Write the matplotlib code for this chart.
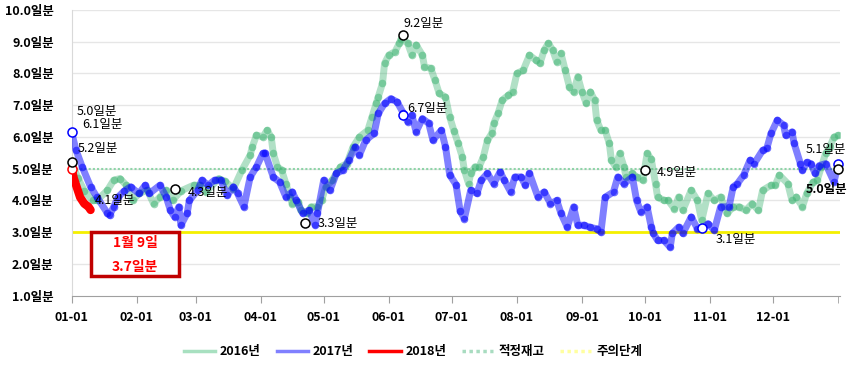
import matplotlib
matplotlib.use("Agg")
import matplotlib.pyplot as plt
from matplotlib.patches import Rectangle
from matplotlib.lines import Line2D

plt.rcParams['font.family'] = ['Noto Sans CJK KR', 'DejaVu Sans']

# ---------------- data ----------------
month_days = [0, 31, 59, 90, 120, 151, 181, 212, 243, 273, 304, 334]
month_labels = ["01-01", "02-01", "03-01", "04-01", "05-01", "06-01",
                "07-01", "08-01", "09-01", "10-01", "11-01", "12-01"]
y_ticks = [1, 2, 3, 4, 5, 6, 7, 8, 9, 10]

days_2016 = [0, 3, 6, 10, 12, 17, 20, 23, 26, 29, 32, 36, 39, 42, 45, 48, 52, 58, 61, 64,
             70, 73, 77, 81, 85, 86, 88, 91, 93, 95, 96, 98, 100, 102, 104, 105, 108, 109, 112, 114,
             117, 119, 121, 124, 128, 131, 134, 137, 141, 143, 145, 146, 148, 149, 151, 154, 156, 157, 160, 162,
             164, 167, 168, 171, 173, 175, 178, 180, 182, 184, 186, 187, 189, 190, 192, 194, 196, 198, 200, 201,
             203, 205, 208, 210, 212, 215, 218, 221, 223, 225, 227, 229, 231, 233, 235, 237, 239, 241, 243, 245,
             247, 249, 250, 252, 254, 256, 257, 259, 261, 263, 264, 267, 269, 272, 274, 276, 278, 279, 282, 284,
             287, 289, 291, 295, 298, 300, 303, 306, 309, 312, 315, 318, 321, 324, 327, 329, 333, 335, 337, 341,
             343, 345, 348, 350, 353, 355, 357, 359, 361, 363, 365]
vals_2016 = [5.2, 4.7, 4.3, 4.0, 4.0, 4.32, 4.64, 4.69, 4.48, 4.0, 4.22, 4.32, 3.9, 4.11, 4.32, 4.0, 4.3, 4.48, 4.48, 4.27,
             4.69, 4.6, 4.37, 4.95, 5.43, 5.69, 6.06, 6.0, 6.21, 6.0, 5.48, 5.06, 4.95, 4.53, 4.11, 3.9, 3.95, 3.69, 3.59, 3.8,
             3.8, 4.0, 4.43, 4.64, 5.06, 5.16, 5.69, 6.0, 6.21, 6.63, 7.06, 7.26, 7.69, 8.32, 8.58, 8.69, 8.95, 9.1, 8.95, 8.58,
             8.9, 8.58, 8.21, 8.16, 7.79, 7.37, 7.26, 6.63, 6.2, 5.8, 5.37, 4.95, 4.53, 4.85, 5.06, 5.06, 5.37, 5.9, 6.11, 6.43,
             6.74, 7.16, 7.32, 7.42, 8.0, 8.1, 8.58, 8.42, 8.32, 8.74, 8.95, 8.74, 8.37, 8.63, 8.1, 7.58, 7.42, 7.9, 7.42, 7.06,
             7.42, 7.16, 6.53, 6.21, 6.21, 5.8, 5.27, 5.06, 5.48, 5.06, 4.74, 4.85, 4.74, 4.64, 5.48, 5.3, 4.53, 4.11, 4.0, 4.0,
             3.74, 4.11, 3.69, 4.32, 4.0, 3.37, 4.22, 4.0, 4.11, 3.59, 3.8, 3.8, 3.69, 3.9, 3.69, 4.32, 4.48, 4.48, 4.8, 4.53,
             4.0, 4.11, 3.8, 4.22, 4.58, 4.64, 5.06, 5.48, 5.69, 6.0, 6.05]

days_2017 = [0, 2, 5, 9, 12, 17, 18, 20, 22, 25, 28, 32, 35, 37, 42, 45, 47, 49, 51, 52,
             55, 56, 60, 62, 65, 68, 71, 74, 77, 79, 82, 85, 88, 91, 92, 96, 99, 102, 105, 107,
             110, 113, 116, 117, 120, 123, 126, 129, 132, 135, 137, 140, 144, 146, 149, 152, 155, 158, 160, 162,
             164, 167, 170, 172, 176, 178, 180, 183, 185, 187, 190, 193, 195, 198, 201, 204, 206, 209, 211, 214,
             216, 218, 222, 225, 228, 231, 233, 236, 239, 241, 244, 247, 250, 252, 254, 258, 260, 263, 267, 269,
             271, 274, 276, 277, 279, 282, 285, 286, 289, 291, 295, 298, 300, 303, 306, 309, 313, 315, 317, 320,
             323, 325, 329, 331, 333, 336, 339, 340, 343, 344, 347, 348, 350, 352, 354, 356, 359, 363, 365]
vals_2017 = [6.14, 5.6, 5.06, 4.43, 4.11, 3.6, 3.53, 3.8, 4.1, 4.3, 4.43, 4.22, 4.48, 4.22, 4.48, 4.11, 3.69, 3.48, 3.8, 3.22,
             3.6, 4.0, 4.32, 4.64, 4.48, 4.64, 4.64, 4.16, 4.43, 4.22, 3.8, 4.74, 5.06, 5.48, 5.5, 4.74, 4.58, 4.11, 4.27, 4.0,
             3.59, 3.69, 3.22, 3.59, 4.64, 4.32, 4.85, 4.95, 5.27, 5.69, 5.43, 5.9, 6.11, 6.74, 7.06, 7.21, 7.1, 6.74, 6.48, 6.69,
             6.16, 6.58, 6.43, 5.9, 6.21, 5.69, 4.8, 4.5, 3.66, 3.43, 4.32, 4.22, 4.64, 4.85, 4.53, 4.9, 4.64, 4.27, 4.74, 4.74,
             4.48, 4.85, 4.11, 4.27, 3.9, 4.0, 3.59, 3.16, 3.8, 3.22, 3.22, 3.15, 3.11, 3.0, 4.1, 4.27, 4.74, 4.53, 4.74, 4.0,
             3.64, 3.8, 3.16, 2.96, 2.74, 2.74, 2.53, 2.96, 3.16, 2.96, 3.48, 3.11, 3.11, 3.27, 3.06, 3.8, 3.8, 4.43, 4.53, 4.8,
             5.27, 5.16, 5.58, 5.64, 6.11, 6.53, 6.37, 6.05, 6.16, 5.8, 5.16, 4.95, 5.2, 5.16, 4.85, 5.1, 5.16, 4.58, 5.16]

days_2018 = [0, 1, 2, 3, 4, 5, 6, 7, 8, 9]
vals_2018 = [5.0, 4.7, 4.5, 4.3, 4.1, 4.0, 3.9, 3.85, 3.8, 3.7]

proper_level = 5.0
caution_level = 3.0

# annotation points: (day, value, edge colour)
marks = [(0, 5.0, '#ff0000'), (0, 6.15, '#0000ff'), (0, 5.2, '#000000'),
         (49, 4.35, '#000000'), (111, 3.3, '#000000'), (158, 9.2, '#000000'),
         (158, 6.7, '#0000ff'), (273, 4.95, '#000000'), (300, 3.12, '#0000ff'),
         (365, 5.15, '#0000ff'), (365, 5.0, '#000000')]
# labels: (day, value, text, bold)
labels = [(2.4, 6.79, "5.0일분", False), (5.2, 6.38, "6.1일분", False), (3, 5.65, "5.2일분", False),
          (11, 4.0, "4.1일분", False), (55.5, 4.26, "4.3일분", False), (117, 3.28, "3.3일분", False),
          (158, 9.58, "9.2일분", False), (160, 6.9, "6.7일분", False), (278.5, 4.89, "4.9일분", False),
          (306.5, 2.78, "3.1일분", False), (349.7, 5.62, "5.1일분", False), (349.7, 4.33, "5.0일분", True)]

# ---------------- figure ----------------
W, H = 848, 369
fig = plt.figure(figsize=(W / 100, H / 100), dpi=100)
x0, x1, ytop, ybot = 71.7, 840.3, 10.0, 295.7
ax = fig.add_axes([x0 / W, 1 - ybot / H, (x1 - x0) / W, (ybot - ytop) / H])
ax.set_xlim(0, 366)
ax.set_ylim(1, 10)

for v in y_ticks[1:]:
    ax.axhline(v, color='#e6e6e6', lw=1, zorder=0)

ax.axhline(proper_level, color='#8fd4a8', lw=1.5, ls=(0, (1, 1)), zorder=1)
ax.axhline(caution_level, color='#f5f000', lw=2, zorder=1)

g = '#3cb371'
ax.plot(days_2016, vals_2016, color=g, lw=5, alpha=0.4, solid_capstyle='round', zorder=2)
ax.plot(days_2016, vals_2016, ls='none', marker='o', ms=5.5, color=g, alpha=0.5, mec='none', zorder=2)
b = '#0000ff'
ax.plot(days_2017, vals_2017, color=b, lw=5, alpha=0.5, solid_capstyle='round', zorder=3)
ax.plot(days_2017, vals_2017, ls='none', marker='o', ms=5.5, color=b, alpha=0.55, mec='none', zorder=3)
ax.plot(days_2018, vals_2018, color='#ff0000', lw=6, solid_capstyle='round', zorder=4)

for d, v, c in marks:
    ax.plot([d], [v], marker='o', ms=6.5, mfc='white', mec=c, mew=1.1, ls='none', zorder=6, clip_on=False)

for d, v, t, bold in labels:
    ax.text(d, v, t, fontsize=9, fontweight='bold' if bold else 'normal', color='black',
            ha='left', va='center', zorder=7, clip_on=False)

for s in ['top', 'right']:
    ax.spines[s].set_visible(False)
ax.spines['left'].set_color('#d9d9d9')
ax.spines['bottom'].set_color('#a0a0a0')

ax.set_yticks(y_ticks)
ax.set_yticklabels([f"{v:.1f}일분" for v in y_ticks], fontsize=9, fontweight='bold')
ax.tick_params(axis='y', length=0, pad=13)
ax.set_xticks(month_days)
ax.set_xticklabels(month_labels, fontsize=9, fontweight='bold')
ax.tick_params(axis='x', length=5, color='#a0a0a0', pad=6)
ax.set_xticks([365], minor=True)
ax.tick_params(axis='x', which='minor', length=5, color='#a0a0a0')

# annotation box
fig.patches.append(Rectangle((90.7 / W, 1 - 276 / H), (179.3 - 90.7) / W, (276 - 231.7) / H,
                             transform=fig.transFigure, fill=True, fc='white', ec='#c00000', lw=2.5, zorder=10))
fig.text(135 / W, 1 - 242.5 / H, "1월 9일", color='#ff0000', fontsize=10, fontweight='bold', ha='center', va='center', zorder=11)
fig.text(135 / W, 1 - 267 / H, "3.7일분", color='#ff0000', fontsize=10, fontweight='bold', ha='center', va='center', zorder=11)

handles = [Line2D([], [], color='#a8e0c0', lw=2.5),
           Line2D([], [], color='#8080ff', lw=2.5),
           Line2D([], [], color='#ff0000', lw=2.5),
           Line2D([], [], color='#a8dcc0', lw=2.5, ls=(0, (1, 1))),
           Line2D([], [], color='#ffffa0', lw=2.5, ls=(0, (1, 1)))]
names = ["2016년", "2017년", "2018년", "적정재고", "주의단계"]
leg = fig.legend(handles, names, loc='center', bbox_to_anchor=(413 / W, 1 - 352 / H), ncol=5,
                 frameon=False, fontsize=9, handlelength=2.5, handletextpad=0.4, columnspacing=1.25,
                 prop={'weight': 'bold', 'size': 9})

fig.savefig("out.png", dpi=100)
